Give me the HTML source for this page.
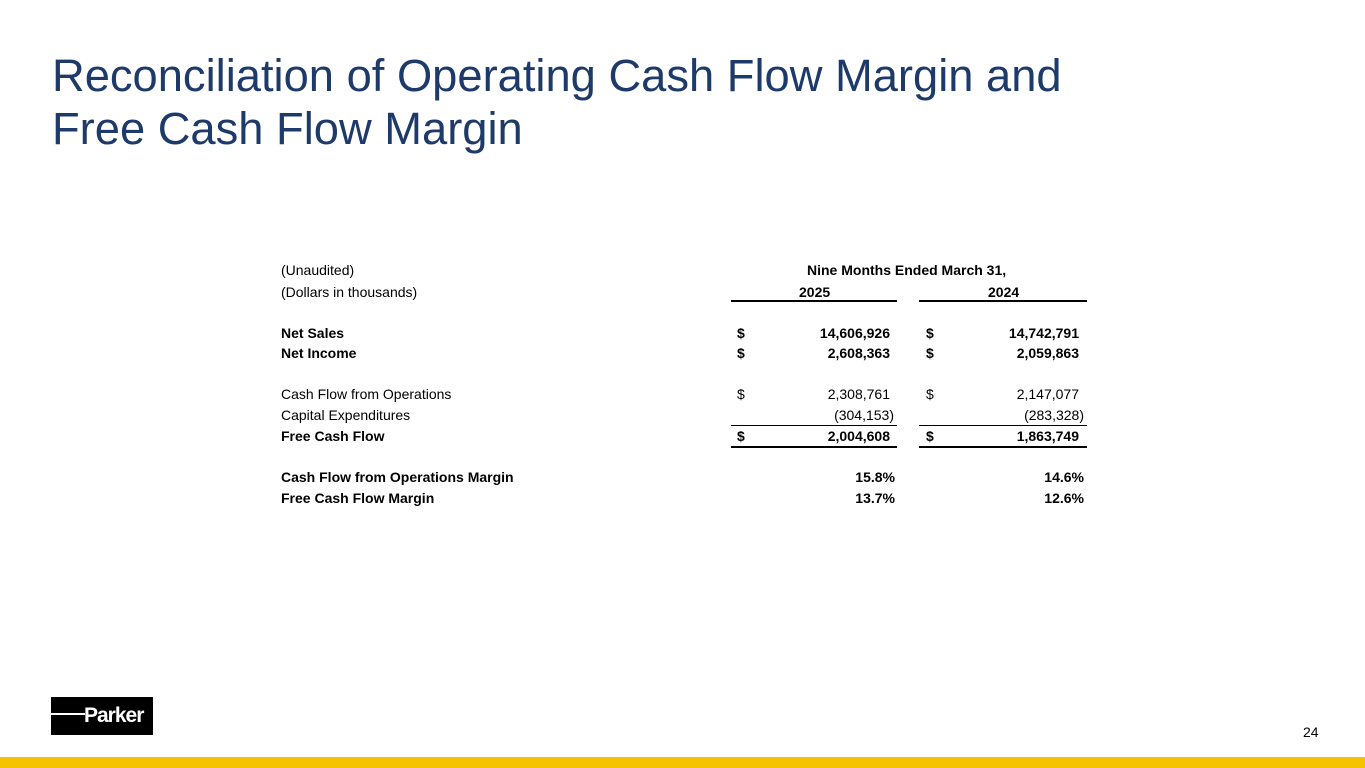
<!DOCTYPE html><html><head><meta charset="utf-8"><style>
body{margin:0;width:1365px;height:768px;position:relative;background:#fff;font-family:"Liberation Sans",Arial,sans-serif;overflow:hidden}
.t{position:absolute;left:52px;top:49px;font-size:45.3px;line-height:53px;color:#1d3a6a}
.x{position:absolute;font-size:14px;color:#000;white-space:nowrap;line-height:15px}
.b{font-weight:bold}
.r{text-align:right}
.l{position:absolute;height:1px;background:#000}
</style></head><body>
<div class="t">Reconciliation of Operating Cash Flow Margin and<br>Free Cash Flow Margin</div>
<div class="x" style="left:281px;top:263px">(Unaudited)</div>
<div class="x" style="left:281px;top:285px">(Dollars in thousands)</div>
<div class="x b" style="left:807px;top:263px">Nine Months Ended March 31,</div>
<div class="x b" style="left:799px;top:285px">2025</div>
<div class="x b" style="left:988px;top:285px">2024</div>
<div class="l" style="left:731px;top:300px;width:166px;height:1.5px"></div>
<div class="l" style="left:919px;top:300px;width:168px;height:1.5px"></div>

<div class="x b" style="left:281px;top:326px">Net Sales</div>
<div class="x b" style="left:281px;top:346px">Net Income</div>
<div class="x" style="left:281px;top:387px">Cash Flow from Operations</div>
<div class="x" style="left:281px;top:408px">Capital Expenditures</div>
<div class="x b" style="left:281px;top:429px">Free Cash Flow</div>
<div class="x b" style="left:281px;top:470px">Cash Flow from Operations Margin</div>
<div class="x b" style="left:281px;top:491px">Free Cash Flow Margin</div>

<div class="x b" style="left:737px;top:326px">$</div><div class="x b r" style="right:475px;top:326px">14,606,926</div>
<div class="x b" style="left:926px;top:326px">$</div><div class="x b r" style="right:286px;top:326px">14,742,791</div>
<div class="x b" style="left:737px;top:346px">$</div><div class="x b r" style="right:475px;top:346px">2,608,363</div>
<div class="x b" style="left:926px;top:346px">$</div><div class="x b r" style="right:286px;top:346px">2,059,863</div>
<div class="x" style="left:737px;top:387px">$</div><div class="x r" style="right:475px;top:387px">2,308,761</div>
<div class="x" style="left:926px;top:387px">$</div><div class="x r" style="right:286px;top:387px">2,147,077</div>
<div class="x r" style="right:471px;top:408px">(304,153)</div>
<div class="x r" style="right:281px;top:408px">(283,328)</div>
<div class="l" style="left:731px;top:425px;width:166px"></div>
<div class="l" style="left:919px;top:425px;width:168px"></div>
<div class="x b" style="left:737px;top:429px">$</div><div class="x b r" style="right:475px;top:429px">2,004,608</div>
<div class="x b" style="left:926px;top:429px">$</div><div class="x b r" style="right:286px;top:429px">1,863,749</div>
<div class="l" style="left:731px;top:446px;width:166px;height:1.5px"></div>
<div class="l" style="left:919px;top:446px;width:168px;height:1.5px"></div>
<div class="x b r" style="right:470px;top:470px">15.8%</div>
<div class="x b r" style="right:281px;top:470px">14.6%</div>
<div class="x b r" style="right:470px;top:491px">13.7%</div>
<div class="x b r" style="right:281px;top:491px">12.6%</div>

<div style="position:absolute;left:51px;top:697px;width:102px;height:38px;background:#000"></div>
<div style="position:absolute;left:51px;top:713px;width:34px;height:2px;background:#fff"></div>
<div style="position:absolute;left:84px;top:704px;font-size:21px;font-weight:bold;color:#fff;letter-spacing:-1px;line-height:24px">Parker</div>
<div class="x" style="left:1303px;top:725px;font-size:14px">24</div>
<div style="position:absolute;left:0;top:757px;width:1365px;height:11px;background:#f7c300"></div>
</body></html>
